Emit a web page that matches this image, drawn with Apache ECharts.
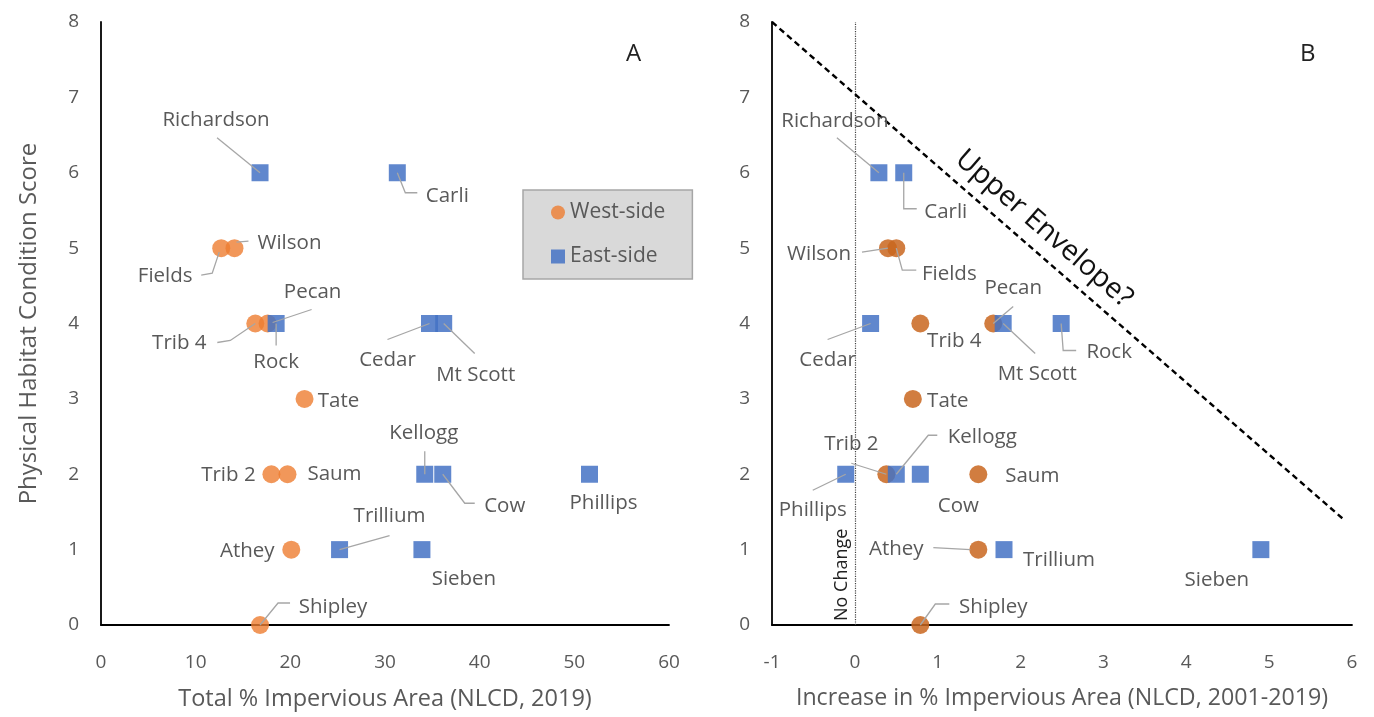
<!DOCTYPE html>
<html>
<head>
<meta charset="utf-8">
<script src="https://cdn.jsdelivr.net/npm/echarts@6/dist/echarts.min.js"></script>
<style>
html,body{margin:0;padding:0;background:#fff;}
#chart{width:1374px;height:717px;}
</style>
</head>
<body>
<div id="chart"></div>
<script>
// ---------------- DATA ----------------
const sites = ['Richardson','Carli','Wilson','Fields','Trib 4','Pecan','Rock','Cedar','Mt Scott','Tate','Trib 2','Saum','Kellogg','Cow','Phillips','Athey','Trillium','Sieben','Shipley'];
const side = ['East','East','West','West','West','West','East','East','East','West','West','West','East','East','East','West','East','East','West'];
const habitatScore = [6,6,5,5,4,4,4,4,4,3,2,2,2,2,2,1,1,1,0];
const totalImpervious2019 = [16.8,31.3,14.1,12.7,16.3,17.6,18.5,34.7,36.2,21.5,18.0,19.7,34.2,36.1,51.6,20.1,25.2,33.9,16.8];
const increaseImpervious = [0.29,0.59,0.40,0.50,0.79,1.67,2.49,0.19,1.79,0.70,0.38,1.49,0.50,0.79,-0.11,1.49,1.80,4.90,0.79];
const envelopeX = [-1, 5.9];
const envelopeY = [8, 1.4];
const noChangeX = 0;
const yTicks = [0,1,2,3,4,5,6,7,8];
const xTicksA = [0,10,20,30,40,50,60];
const xTicksB = [-1,0,1,2,3,4,5,6];

// ---------------- LABEL LAYOUT (pixel offsets from marker) ----------------
const labelsA = {
  'Richardson': {t:[-44,-53], l:[[-43,-35],[0,0]]},
  'Carli': {t:[50,23], l:[[0,0],[8,20],[20,20]]},
  'Wilson': {t:[55,-5], l:[[2,-6],[14,-7]]},
  'Fields': {t:[-56,28], l:[[-20,27],[-9,25],[-2,4]]},
  'Trib 4': {t:[-76,20], l:[[-38,19],[-25,17],[0,0]]},
  'Pecan': {t:[45,-31], l:[[44,-14],[5,-1]]},
  'Rock': {t:[0,39], l:[[0,0],[0,22]]},
  'Cedar': {t:[-42,37], l:[[-42,16],[0,0]]},
  'Mt Scott': {t:[32,52], l:[[0,0],[31,30]]},
  'Tate': {t:[34,2]},
  'Trib 2': {t:[-43,1]},
  'Saum': {t:[47,0]},
  'Kellogg': {t:[-1,-41], l:[[0,-23],[0,0]]},
  'Cow': {t:[62,32], l:[[0,0],[22,29],[32,29]]},
  'Phillips': {t:[14,29]},
  'Athey': {t:[-44,2]},
  'Trillium': {t:[50,-33], l:[[50,-14],[0,0]]},
  'Sieben': {t:[42,30]},
  'Shipley': {t:[73,-18], l:[[0,0],[18,-22],[30,-22]]}
};
const labelsB = {
  'Richardson': {t:[-44,-52], l:[[-42,-35],[0,0]]},
  'Carli': {t:[42,39], l:[[0,0],[0,36],[13,36]]},
  'Wilson': {t:[-69,6], l:[[-26,4],[0,0]]},
  'Fields': {t:[53,26], l:[[0,0],[6,22],[20,22]]},
  'Cedar': {t:[-43,37], l:[[-43,16],[0,0]]},
  'Trib 4': {t:[34,18]},
  'Pecan': {t:[20,-35], l:[[20,-17],[0,0]]},
  'Mt Scott': {t:[34,51], l:[[0,0],[32,30]]},
  'Rock': {t:[48,29], l:[[0,0],[2,27],[15,27]]},
  'Tate': {t:[35,2]},
  'Phillips': {t:[-33,36], l:[[-33,16],[0,0]]},
  'Trib 2': {t:[-35,-30], l:[[-35,-11],[0,0]]},
  'Kellogg': {t:[86,-37], l:[[41,-39],[32,-39],[0,0]]},
  'Cow': {t:[38,32]},
  'Saum': {t:[54,2]},
  'Athey': {t:[-82,0], l:[[-45,-2],[-8,0]]},
  'Trillium': {t:[55,11]},
  'Sieben': {t:[-44,31]},
  'Shipley': {t:[73,-18], l:[[0,0],[15,-21],[29,-21]]}
};
// fraction along the envelope line where its caption is centred
const envelopeLabelFrac = 0.45;

// ---------------- BUILD ----------------
const FONT = '"Open Sans", "Noto Sans", sans-serif';
const GREY = '#595959';

function pts(xs, s) {
  const out = [];
  sites.forEach((n,i) => { if (side[i] === s) out.push({value:[xs[i], habitatScore[i]], name:n}); });
  return out;
}

function labelSeries(idx, xs, layout) {
  return {
    type:'custom', xAxisIndex:idx, yAxisIndex:idx, z:5, silent:true, clip:false,
    data: sites.map((n,i) => [xs[i], habitatScore[i], i]),
    encode:{x:0, y:1},
    renderItem: function(params, api) {
      const i = api.value(2);
      const p = api.coord([api.value(0), api.value(1)]);
      const L = layout[sites[i]];
      const children = [];
      if (L.l) {
        children.push({type:'polyline', shape:{points:L.l.map(o => [p[0]+o[0], p[1]+o[1]])},
          style:{stroke:'#a6a6a6', lineWidth:1.3, fill:null}});
      }
      children.push({type:'text', style:{text:sites[i], x:p[0]+L.t[0], y:p[1]+L.t[1],
        align:'center', verticalAlign:'middle', fill:GREY, fontSize:20.5, fontFamily:FONT}});
      return {type:'group', children:children};
    }
  };
}

function yAxis(idx) {
  return {
    gridIndex:idx, type:'value', min:yTicks[0], max:yTicks[yTicks.length-1], interval:1,
    name: idx === 0 ? 'Physical Habitat Condition Score' : '',
    nameLocation:'middle', nameGap:60,
    nameTextStyle:{color:GREY, fontSize:24, fontFamily:FONT},
    axisLine:{show:true, onZero:false, lineStyle:{color:'#000', width:1.8}},
    axisTick:{show:false}, splitLine:{show:false},
    axisLabel:{color:GREY, fontSize:19, fontFamily:FONT, margin:22}
  };
}

function xAxis(idx, ticks, name) {
  return {
    gridIndex:idx, type:'value', min:ticks[0], max:ticks[ticks.length-1], interval:ticks[1]-ticks[0],
    name:name, nameLocation:'middle', nameGap:62,
    nameTextStyle:{color:GREY, fontSize:idx === 0 ? 23.5 : 23.2, fontFamily:FONT},
    axisLine:{show:true, onZero:false, lineStyle:{color:'#000', width:1.8}},
    axisTick:{show:false}, splitLine:{show:false},
    axisLabel:{color:GREY, fontSize:19, fontFamily:FONT, margin:28}
  };
}

const ex1 = envelopeX[0] + 2*envelopeLabelFrac*(envelopeX[1]-envelopeX[0]);
const ey1 = envelopeY[0] + 2*envelopeLabelFrac*(envelopeY[1]-envelopeY[0]);

const option = {
  animation:false,
  backgroundColor:'#fff',
  grid:[
    {left:101, right:705, top:22, bottom:92},
    {left:772, right:22, top:22, bottom:92}
  ],
  xAxis:[
    xAxis(0, xTicksA, 'Total % Impervious Area (NLCD, 2019)'),
    xAxis(1, xTicksB, 'Increase in % Impervious Area (NLCD, 2001-2019)')
  ],
  yAxis:[yAxis(0), yAxis(1)],
  legend:{
    data:['West-side','East-side'],
    orient:'vertical', left:523, top:190,
    backgroundColor:'#d9d9d9', borderColor:'#a6a6a6', borderWidth:1.5,
    padding:[12,27,12,28], itemGap:23, itemWidth:14, itemHeight:14,
    textStyle:{color:GREY, fontSize:21, fontFamily:FONT},
    selectedMode:false
  },
  graphic:[
    {type:'text', left:626, top:42, style:{text:'A', fontSize:24, fontFamily:FONT, fill:'#222'}},
    {type:'text', left:1300, top:42, style:{text:'B', fontSize:24, fontFamily:FONT, fill:'#222'}}
  ],
  series:[
    {name:'West-side', type:'scatter', xAxisIndex:0, yAxisIndex:0, symbol:'circle', symbolSize:18,
      itemStyle:{color:'#ED7D31', opacity:0.8}, data:pts(totalImpervious2019,'West')},
    {name:'East-side', type:'scatter', xAxisIndex:0, yAxisIndex:0, symbol:'rect', symbolSize:17,
      itemStyle:{color:'#4472C4', opacity:0.85}, data:pts(totalImpervious2019,'East')},
    labelSeries(0, totalImpervious2019, labelsA),
    {name:'West-side B', type:'scatter', xAxisIndex:1, yAxisIndex:1, symbol:'circle', symbolSize:18,
      itemStyle:{color:'#C9661F', opacity:0.85}, data:pts(increaseImpervious,'West'),
      markLine:{
        silent:true, symbol:'none', animation:false,
        lineStyle:{type:'dotted', color:'#444', width:1.2},
        label:{show:true, formatter:'No Change', position:'insideStartTop', color:'#222', fontSize:18, fontFamily:FONT, distance:4},
        data:[[{coord:[noChangeX, yTicks[0]]},{coord:[noChangeX, yTicks[yTicks.length-1]]}]]
      }},
    {name:'East-side B', type:'scatter', xAxisIndex:1, yAxisIndex:1, symbol:'rect', symbolSize:17,
      itemStyle:{color:'#4472C4', opacity:0.85}, data:pts(increaseImpervious,'East'),
      markLine:{
        silent:true, symbol:'none', animation:false,
        data:[
          [{coord:[envelopeX[0], envelopeY[0]], lineStyle:{type:[6,4], color:'#000', width:2.4}, label:{show:false}},
           {coord:[envelopeX[1], envelopeY[1]]}],
          [{coord:[envelopeX[0], envelopeY[0]], lineStyle:{color:'rgba(0,0,0,0)', width:1},
            label:{show:true, formatter:'Upper Envelope?', position:'insideMiddleTop', color:'#111', fontSize:28.5, fontFamily:FONT, distance:8}},
           {coord:[ex1, ey1]}]
        ]
      }},
    labelSeries(1, increaseImpervious, labelsB)
  ]
};

const chart = echarts.init(document.getElementById('chart'), null, {renderer:'canvas'});
chart.setOption(option);
</script>
</body>
</html>
